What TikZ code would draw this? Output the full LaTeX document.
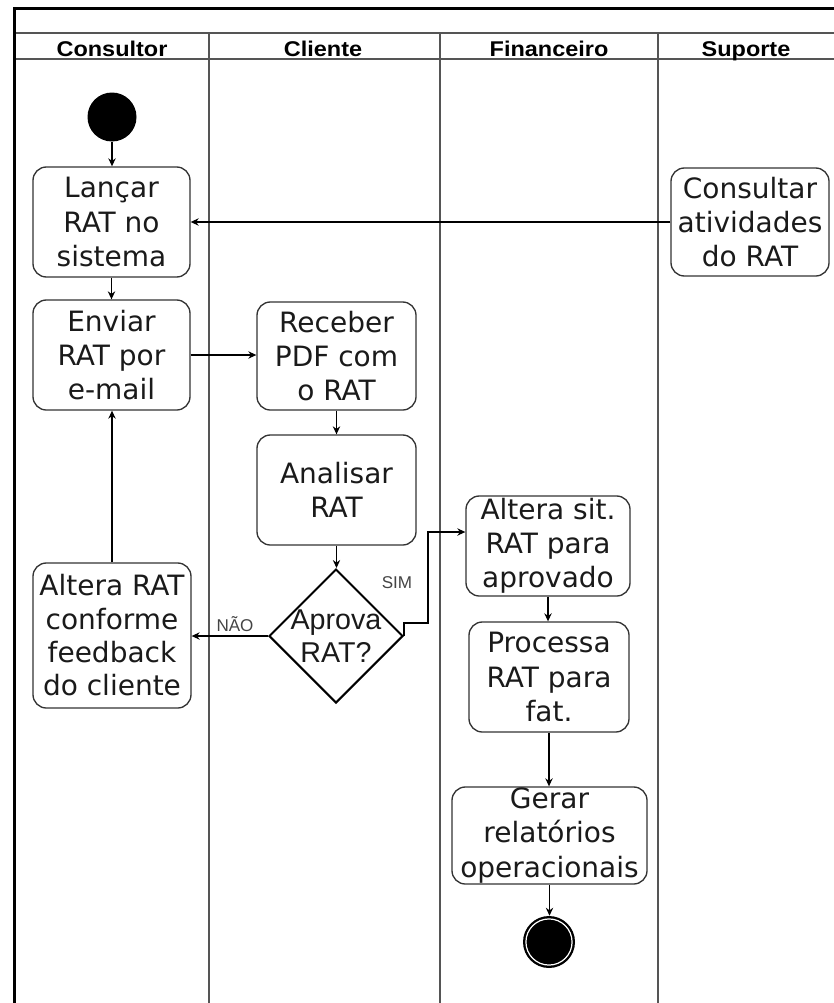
\documentclass[tikz,border=0pt]{standalone}
\usepackage{fontspec}
\newfontfamily\djv{DejaVu Sans}
\newfontfamily\lib{Liberation Sans}
\usetikzlibrary{arrows.meta,shapes.geometric,calc}
\definecolor{ln}{HTML}{555555}
\definecolor{bd}{HTML}{333333}
\definecolor{tx}{HTML}{1A1A1A}
\definecolor{lb}{HTML}{444444}
\begin{document}
\begin{tikzpicture}[x=0.75pt,y=-0.75pt,
 act/.style={draw=bd, line width=1pt, rounded corners=10pt, align=center, inner sep=0pt, text=tx, font=\djv\fontsize{21}{25.6}\selectfont},
 arr/.style={-{Stealth[length=6pt,width=5.5pt]}, line width=0.9pt, draw=black},
 lane/.style={draw=ln, line width=1pt},
 frame/.style={draw=black, line width=2.2pt},
 hdr/.style={font=\lib\bfseries\fontsize{16}{18}\selectfont, inner sep=0pt, text=black, anchor=base},
 lbl/.style={text=lb, font=\lib\fontsize{12.8}{15}\selectfont, inner sep=0pt},
 dtext/.style={align=center, inner sep=0pt, text=tx, font=\lib\fontsize{21.5}{25}\selectfont}]
\useasboundingbox (0,0) rectangle (834,1003);

% swimlane frame
\draw[lane] (15,33) -- (834,33);
\draw[lane] (15,59) -- (834,59);
\draw[lane] (209,33) -- (209,1003);
\draw[lane] (440,33) -- (440,1003);
\draw[lane] (658,33) -- (658,1003);
\draw[frame] (13,8.5) -- (834,8.5);
\draw[frame] (14.3,7.5) -- (14.3,1003);

% headers
\node[hdr] (h1) at (112,56) {\scalebox{1.1}[1]{Consultor}};
\node[hdr] (h2) at (323,56) {\scalebox{1.1}[1]{Cliente}};
\node[hdr] (h3) at (549,56) {\scalebox{1.1}[1]{Financeiro}};
\node[hdr] (h4) at (746,56) {\scalebox{1.1}[1]{Suporte}};

% nodes
\node[circle, fill=black, minimum size=36.75pt, inner sep=0pt] (start) at (112,117) {};
\node[act, minimum width=117.75pt, minimum height=82.5pt] (lancar) at (111.5,222) {Lançar\\RAT no\\sistema};
\node[act, minimum width=117.75pt, minimum height=82.5pt] (enviar) at (111.5,355) {Enviar\\RAT por\\e-mail};
\node[act, minimum width=118.5pt, minimum height=81pt] (consultar) at (750,222) {Consultar\\atividades\\do RAT};
\node[act, minimum width=119.25pt, minimum height=81pt] (receber) at (336.5,356) {Receber\\PDF com\\o RAT};
\node[act, minimum width=119.25pt, minimum height=82.5pt] (analisar) at (336.5,490) {Analisar\\RAT};
\node[diamond, draw=black, line width=1.5pt, shape aspect=1, minimum width=100.5pt, minimum height=100.5pt, inner sep=0pt] (dia) at (336,636) {};
\node[dtext] (diatext) at (dia.center) {Aprova\\RAT?};
\node[act, minimum width=118.5pt, minimum height=108.75pt, font=\djv\fontsize{21}{25}\selectfont] (altera) at (112,635.5) {Altera RAT\\conforme\\feedback\\do cliente};
\node[act, minimum width=123pt, minimum height=75pt] (alterasit) at (548,546) {Altera sit.\\RAT para\\aprovado};
\node[act, minimum width=120pt, minimum height=82.5pt] (processa) at (549,677) {Processa\\RAT para\\fat.};
\node[act, minimum width=146.25pt, minimum height=72.75pt] (gerar) at (549.5,835.5) {Gerar\\relatórios\\operacionais};
\node[circle, fill=black, minimum size=39pt, inner sep=0pt] (end) at (549,942) {};
\draw[white, line width=0.9pt] (end.center) circle[radius=17.3pt];

% labels
\node[lbl] (nao) at (235,624) {NÃO};
\node[lbl] (sim) at (397,583) {SIM};

% connectors
\draw[arr] (start.south) -- (start.south |- lancar.north);
\draw[arr] (lancar.south) -- (lancar.south |- enviar.north);
\draw[arr] (consultar.west) -- (consultar.west -| lancar.east);
\draw[arr] (enviar.east) -- (enviar.east -| receber.west);
\draw[arr] (receber.south) -- (receber.south |- analisar.north);
\draw[arr] (analisar.south) -- (analisar.south |- dia.north);
\draw[arr] (dia.west) -- (dia.west -| altera.east);
\coordinate (s1) at (428,623);
\coordinate (s2) at (428,532);
\draw[arr] (dia.east) |- (s1) -- (s2) -- (s2 -| alterasit.west);
\draw[arr] (altera.north) -- (altera.north |- enviar.south);
\draw[arr] (alterasit.south) -- (alterasit.south |- processa.north);
\draw[arr] (processa.south) -- (processa.south |- gerar.north);
\draw[arr] (gerar.south) -- (gerar.south |- end.north);
\end{tikzpicture}
\end{document}
